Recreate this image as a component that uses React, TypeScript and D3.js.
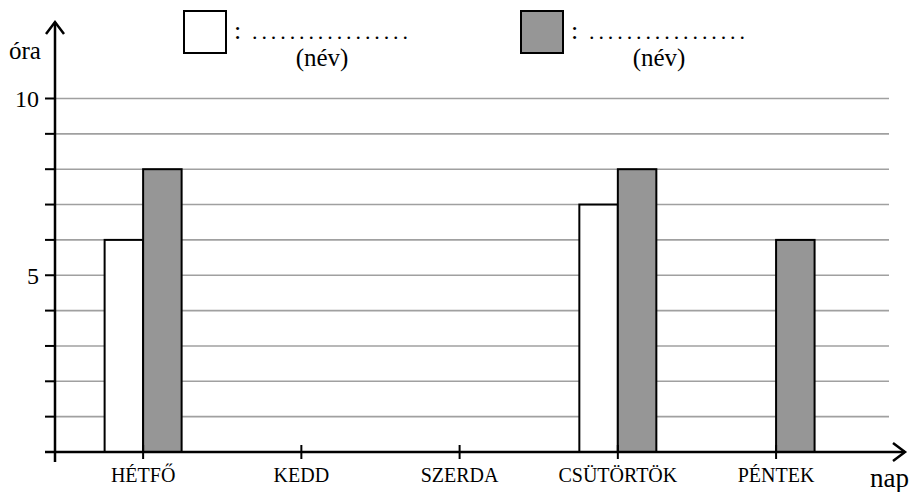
import * as d3 from 'd3';

const days = ['HÉTFŐ', 'KEDD', 'SZERDA', 'CSÜTÖRTÖK', 'PÉNTEK'];
const seriesNames = ['first', 'second'];
// hours per day, null = no bar
const firstHours = [6, null, null, 7, null];
const secondHours = [8, null, null, 8, 6];
const yTicks = [1, 2, 3, 4, 5, 6, 7, 8, 9, 10];
const yLabels = [5, 10];
const seriesFill = ['#ffffff', '#969696'];

const serif = { fontFamily: "'Liberation Serif', 'Times New Roman', serif" };

export default function App() {
  const width = 914;
  const height = 492;
  const originX = 55;
  const originY = 452;

  const x = d3.scaleBand<string>().domain(days).range([64, 855.2]).padding(0);
  const y = d3.scaleLinear().domain([0, 10]).range([originY, 98.5]);
  const barW = 38.5;
  const inner = d3.scaleBand<string>().domain(seriesNames).range([-barW, barW]).padding(0);

  const center = (d: string) => (x(d) as number) + x.bandwidth() / 2;
  const rows = [firstHours, secondHours];

  return (
    <svg width={width} height={height} style={{ position: 'absolute', left: 0, top: 0 }}>
      <rect width={width} height={height} fill="#fff" />

      {/* grid */}
      {yTicks.map(t => (
        <line key={'g' + t} x1={originX} x2={889} y1={y(t)} y2={y(t)} stroke="#a0a0a0" strokeWidth={1.6} />
      ))}

      {/* bars */}
      {rows.map((vals, si) =>
        vals.map((v, i) =>
          v == null ? null : (
            <rect
              key={si + '-' + i}
              x={center(days[i]) + (inner(seriesNames[si]) as number)}
              y={y(v)}
              width={inner.bandwidth()}
              height={originY - y(v)}
              fill={seriesFill[si]}
              stroke="#000"
              strokeWidth={2}
            />
          )
        )
      )}

      {/* y ticks */}
      {yTicks.map(t => (
        <line key={'t' + t} x1={45} x2={originX} y1={y(t)} y2={y(t)} stroke="#000" strokeWidth={2} />
      ))}
      {yLabels.map(t => (
        <text key={'l' + t} x={39} y={y(t)} dy="0.35em" textAnchor="end" fontSize={24} style={serif}>{t}</text>
      ))}

      {/* x ticks + labels */}
      {days.map(d => (
        <g key={d}>
          <line x1={center(d)} x2={center(d)} y1={445} y2={459} stroke="#000" strokeWidth={2} />
          <text x={center(d)} y={482} textAnchor="middle" fontSize={20} style={serif}>{d}</text>
        </g>
      ))}

      {/* axes with arrows */}
      <line x1={originX} x2={originX} y1={462} y2={22} stroke="#000" strokeWidth={2.5} />
      <polyline points="46,34 55,22 64,34" fill="none" stroke="#000" strokeWidth={2.5} />
      <line x1={45} x2={905} y1={originY} y2={originY} stroke="#000" strokeWidth={2.5} />
      <polyline points="893,443 905,452 893,461" fill="none" stroke="#000" strokeWidth={2.5} />

      <text x={9} y={59} fontSize={25} style={serif}>óra</text>
      <text x={870} y={487} fontSize={27} style={serif}>nap</text>

      {/* legend */}
      {seriesNames.map((s, i) => {
        const lx = i === 0 ? 184 : 521;
        return (
          <g key={s}>
            <rect x={lx} y={11} width={42} height={42} fill={seriesFill[i]} stroke="#000" strokeWidth={2} />
            <text x={lx + 50} y={39} fontSize={26} style={serif}>:</text>
            <text x={lx + 68} y={39} fontSize={22} textLength={156} lengthAdjust="spacing" style={serif}>.................</text>
            <text x={lx + 138} y={66} textAnchor="middle" fontSize={25} style={serif}>(név)</text>
          </g>
        );
      })}
    </svg>
  );
}
